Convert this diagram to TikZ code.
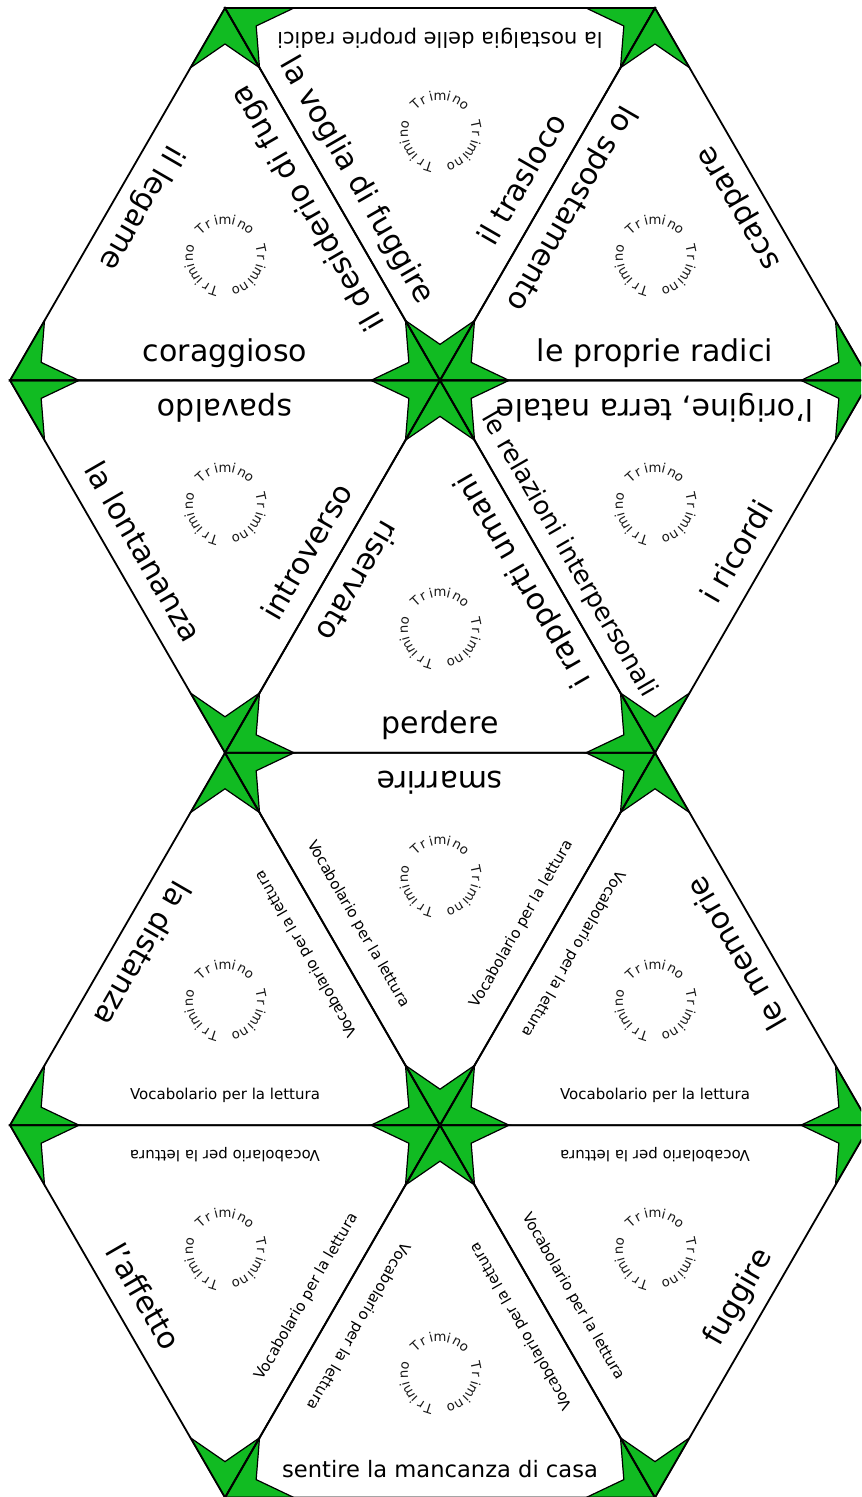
\documentclass[tikz,border=0pt]{standalone}
\usepackage{fontspec}
\setmainfont{DejaVu Sans}
\usetikzlibrary{calc}
\definecolor{tgreen}{RGB}{17,187,34}
\tikzset{
  cornerkite/.style={fill=tgreen, draw=black, line width=0.6pt, line join=miter},
  triedge/.style={draw=black, line width=0.9pt},
  bigtext/.style={font=\fontsize{15}{18}\selectfont, inner sep=0pt},
  vocab/.style={font=\fontsize{7.5}{9}\selectfont, inner sep=0pt},
  trimletter/.style={font=\fontsize{6.6}{8}\selectfont, inner sep=0pt, text=black!90},
}
\newcommand{\trikites}[4]{%
  \filldraw[cornerkite] (#1) -- ($(#1)!0.1605!(#2)$) -- ($(#1)!0.145!(#4)$) -- ($(#1)!0.1605!(#3)$) -- cycle;
  \filldraw[cornerkite] (#2) -- ($(#2)!0.1605!(#1)$) -- ($(#2)!0.145!(#4)$) -- ($(#2)!0.1605!(#3)$) -- cycle;
  \filldraw[cornerkite] (#3) -- ($(#3)!0.1605!(#1)$) -- ($(#3)!0.145!(#4)$) -- ($(#3)!0.1605!(#2)$) -- cycle;
}
\newcommand{\etext}[7]{%
  \coordinate (em) at ($(#1)!0.5!(#2)$);
  \node[#6, rotate=#4, anchor=base] at ($(em)!#5!(#3)$) {#7};
}
\newcommand{\trimring}[1]{%
  \foreach \c in {90,-30,210}{%
    \foreach \ch [count=\k] in {T,r,i,m,i,n,o}{%
      \pgfmathsetmacro{\tang}{\c+14*(4-\k)}%
      \pgfmathsetmacro{\trot}{\tang-90}%
      \node[trimletter, rotate=\trot, anchor=base] at ($(#1)+(\tang:32)$) {\ch};
    }}}
\begin{document}
\begin{tikzpicture}[x=0.5pt,y=0.5pt]
\useasboundingbox (0,0) rectangle (861,1497);
\fill[white] (0,0) rectangle (861,1497);
\clip (0,0) rectangle (861,1497);
% lattice vertices
\coordinate (A0) at (225,1489);
\coordinate (A1) at (655,1489);
\coordinate (B0) at (10,1116.6);
\coordinate (B1) at (440,1116.6);
\coordinate (B2) at (870,1116.6);
\coordinate (C0) at (225,744.2);
\coordinate (C1) at (655,744.2);
\coordinate (D0) at (10,371.8);
\coordinate (D1) at (440,371.8);
\coordinate (D2) at (870,371.8);
\coordinate (E0) at (225,-0.6);
\coordinate (E1) at (655,-0.6);
% centroids
\coordinate (G1) at (225,1240.7);
\coordinate (G2) at (440,1364.9);
\coordinate (G3) at (655,1240.7);
\coordinate (G4) at (225,992.5);
\coordinate (G5) at (440,868.3);
\coordinate (G6) at (655,992.5);
\coordinate (G7) at (225,495.9);
\coordinate (G8) at (440,620.1);
\coordinate (G9) at (655,495.9);
\coordinate (G10) at (225,247.5);
\coordinate (G11) at (440,123.5);
\coordinate (G12) at (655,247.5);
% green corner kites
\trikites{A0}{B0}{B1}{G1}
\trikites{A0}{A1}{B1}{G2}
\trikites{A1}{B1}{B2}{G3}
\trikites{B0}{B1}{C0}{G4}
\trikites{B1}{C0}{C1}{G5}
\trikites{B1}{B2}{C1}{G6}
\trikites{C0}{D0}{D1}{G7}
\trikites{C0}{C1}{D1}{G8}
\trikites{C1}{D1}{D2}{G9}
\trikites{D0}{D1}{E0}{G10}
\trikites{D1}{E0}{E1}{G11}
\trikites{D1}{D2}{E1}{G12}
% triangle outlines
\draw[triedge] (A0) -- (B0) -- (B1) -- cycle;
\draw[triedge] (A0) -- (A1) -- (B1) -- cycle;
\draw[triedge] (A1) -- (B1) -- (B2) -- cycle;
\draw[triedge] (B0) -- (B1) -- (C0) -- cycle;
\draw[triedge] (B1) -- (C0) -- (C1) -- cycle;
\draw[triedge] (B1) -- (B2) -- (C1) -- cycle;
\draw[triedge] (C0) -- (D0) -- (D1) -- cycle;
\draw[triedge] (C0) -- (C1) -- (D1) -- cycle;
\draw[triedge] (C1) -- (D1) -- (D2) -- cycle;
\draw[triedge] (D0) -- (D1) -- (E0) -- cycle;
\draw[triedge] (D1) -- (E0) -- (E1) -- cycle;
\draw[triedge] (D1) -- (D2) -- (E1) -- cycle;
% Trimino rings
\trimring{G1}\trimring{G2}\trimring{G3}\trimring{G4}
\trimring{G5}\trimring{G6}\trimring{G7}\trimring{G8}
\trimring{G9}\trimring{G10}\trimring{G11}\trimring{G12}
% T1
\etext{A0}{B0}{G1}{-120}{0.153}{bigtext}{il legame}
\etext{A0}{B1}{G1}{120}{0.153}{bigtext}{il desiderio di fuga}
\etext{B0}{B1}{G1}{0}{0.153}{bigtext}{coraggioso}
% T2
\etext{A0}{A1}{G2}{180}{0.2}{font=\fontsize{10.5}{12}\selectfont, inner sep=0pt}{la nostalgia delle proprie radici}
\etext{A0}{B1}{G2}{-60}{0.153}{bigtext}{la voglia di fuggire}
\etext{A1}{B1}{G2}{60}{0.153}{bigtext}{il trasloco}
% T3
\etext{A1}{B1}{G3}{-120}{0.153}{bigtext}{lo spostamento}
\etext{A1}{B2}{G3}{120}{0.153}{bigtext}{scappare}
\etext{B1}{B2}{G3}{0}{0.153}{bigtext}{le proprie radici}
% T4
\etext{B0}{B1}{G4}{180}{0.153}{bigtext}{spavaldo}
\etext{B0}{C0}{G4}{-60}{0.153}{bigtext}{la lontananza}
\etext{B1}{C0}{G4}{60}{0.153}{bigtext}{introverso}
% T5
\etext{B1}{C0}{G5}{-120}{0.153}{bigtext}{riservato}
\etext{B1}{C1}{G5}{120}{0.153}{bigtext}{i rapporti umani}
\etext{C0}{C1}{G5}{0}{0.153}{bigtext}{perdere}
% T6
\etext{B1}{B2}{G6}{180}{0.153}{bigtext}{l'origine, terra natale}
\etext{B1}{C1}{G6}{-60}{0.14}{font=\fontsize{12.8}{15}\selectfont, inner sep=0pt}{le relazioni interpersonali}
\etext{B2}{C1}{G6}{60}{0.153}{bigtext}{i ricordi}
% T7
\etext{C0}{D0}{G7}{-120}{0.153}{bigtext}{la distanza}
\etext{C0}{D1}{G7}{120}{0.205}{vocab}{Vocabolario per la lettura}
\etext{D0}{D1}{G7}{0}{0.205}{vocab}{Vocabolario per la lettura}
% T8
\etext{C0}{C1}{G8}{180}{0.153}{bigtext}{smarrire}
\etext{C0}{D1}{G8}{-60}{0.205}{vocab}{Vocabolario per la lettura}
\etext{C1}{D1}{G8}{60}{0.205}{vocab}{Vocabolario per la lettura}
% T9
\etext{C1}{D1}{G9}{-120}{0.205}{vocab}{Vocabolario per la lettura}
\etext{C1}{D2}{G9}{120}{0.153}{bigtext}{le memorie}
\etext{D1}{D2}{G9}{0}{0.205}{vocab}{Vocabolario per la lettura}
% T10
\etext{D0}{D1}{G10}{180}{0.205}{vocab}{Vocabolario per la lettura}
\etext{D0}{E0}{G10}{-60}{0.153}{bigtext}{l'affetto}
\etext{D1}{E0}{G10}{60}{0.205}{vocab}{Vocabolario per la lettura}
% T11
\etext{D1}{E0}{G11}{-120}{0.205}{vocab}{Vocabolario per la lettura}
\etext{D1}{E1}{G11}{120}{0.205}{vocab}{Vocabolario per la lettura}
\etext{E0}{E1}{G11}{0}{0.165}{font=\fontsize{11.3}{13}\selectfont, inner sep=0pt}{sentire la mancanza di casa}
% T12
\etext{D1}{D2}{G12}{180}{0.205}{vocab}{Vocabolario per la lettura}
\etext{D1}{E1}{G12}{-60}{0.205}{vocab}{Vocabolario per la lettura}
\etext{D2}{E1}{G12}{60}{0.153}{bigtext}{fuggire}
\end{tikzpicture}
\end{document}
